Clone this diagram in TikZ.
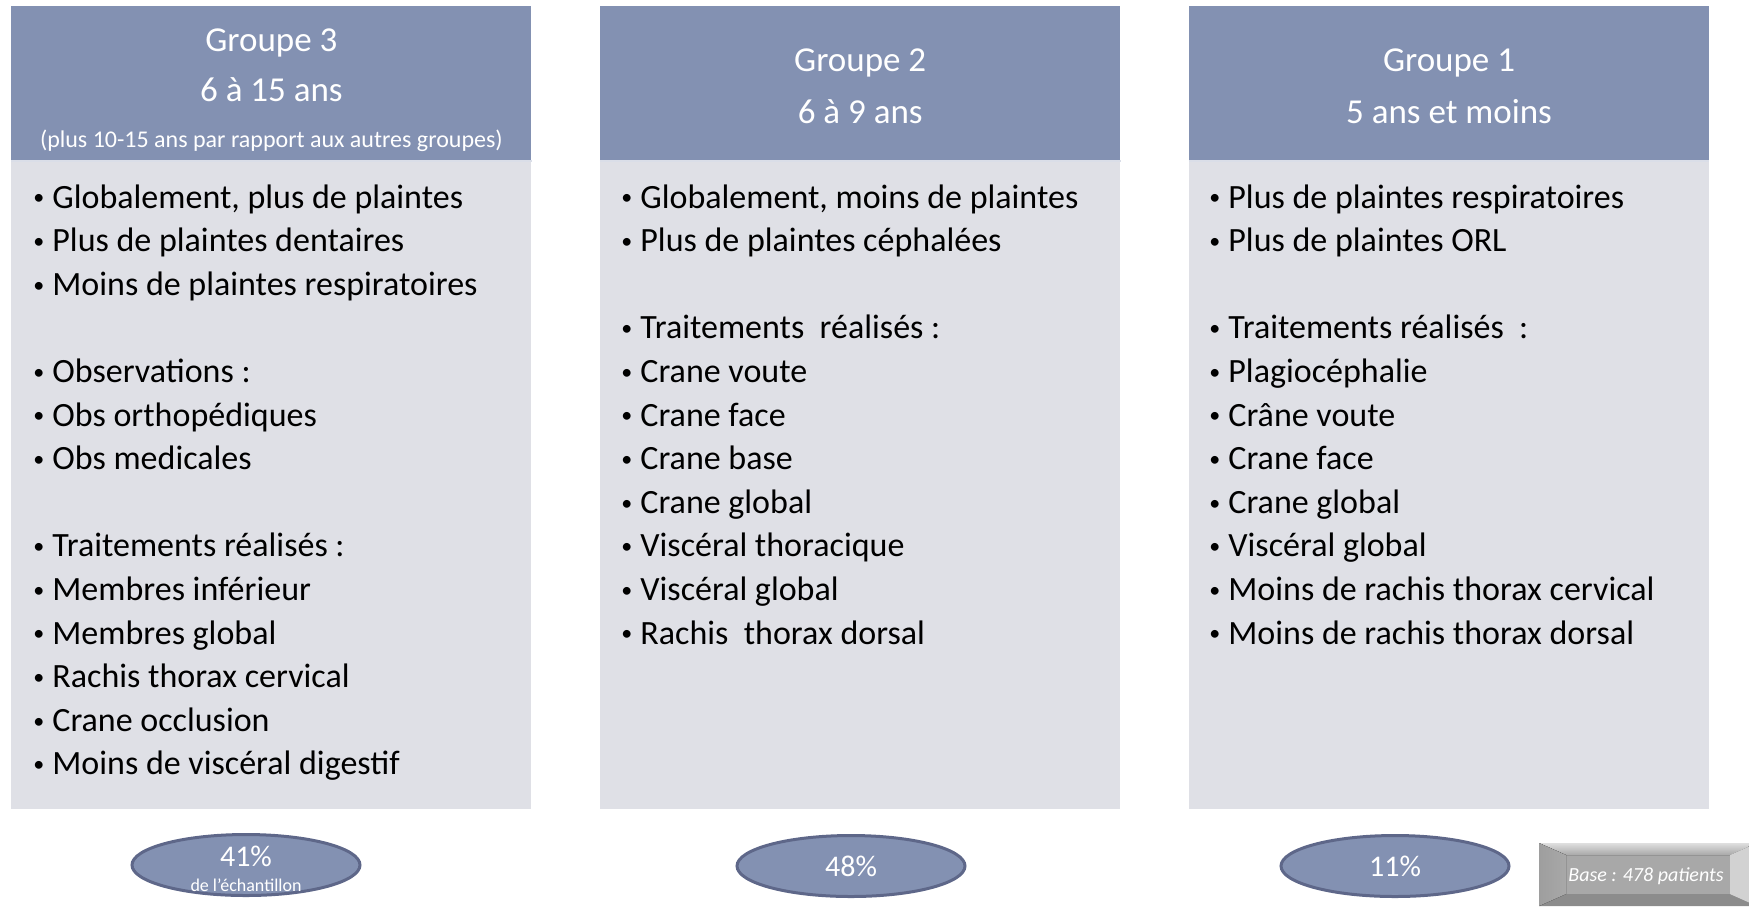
\documentclass[tikz,border=0pt]{standalone}
\usepackage{fontspec}
\setmainfont{Carlito}
\usetikzlibrary{positioning,shapes.geometric}
\definecolor{headblue}{HTML}{8391B2}
\definecolor{bodygray}{HTML}{DFE0E6}
\definecolor{ovalline}{HTML}{5E6789}
\definecolor{basegray}{HTML}{A8A8A8}
\newcommand{\bul}{\makebox[9.5pt][l]{\raisebox{1.6pt}{\fontsize{11}{11}\selectfont\textbullet}}}
\begin{document}
\begin{tikzpicture}[x=0.5pt, y=-0.5pt,
  head/.style={fill=headblue, minimum width=260pt, minimum height=77pt, anchor=north west, text=white, align=center, inner sep=0pt, font=\fontsize{17.5}{26}\selectfont},
  body/.style={fill=bodygray, minimum width=260pt, minimum height=324pt, inner sep=0pt},
  items/.style={anchor=north west, align=left, inner sep=0pt, font=\fontsize{17}{21.8}\selectfont},
  share/.style={ellipse, draw=ovalline, line width=1.5pt, fill=headblue, minimum width=114pt, minimum height=30.5pt, inner sep=0pt, text=white}]
\useasboundingbox (0,0) rectangle (1749,907);

\node (g3) [head] at (11,6) {\rule{0pt}{18.5pt}Groupe 3\\[-1pt]6 à 15 ans\\[-3pt]{\fontsize{12}{20}\selectfont (plus 10-15 ans par rapport aux autres groupes)}};
\node (g2) [head, right=34pt of g3] {\rule{0pt}{13.8pt}Groupe 2\\6 à 9 ans};
\node (g1) [head, right=34pt of g2] {\rule{0pt}{13.8pt}Groupe 1\\5 ans et moins};
\node (b3) [body, below=0pt of g3] {};
\node (b2) [body, below=0pt of g2] {};
\node (b1) [body, below=0pt of g1] {};
\draw[white!70!headblue, line width=1pt] (b3.north west) -- (b3.north east);
\draw[white!70!headblue, line width=1pt] (b2.north west) -- (b2.north east);
\draw[white!70!headblue, line width=1pt] (b1.north west) -- (b1.north east);

\node (t3) [items] at (33,184) {\bul Globalement, plus de plaintes\\
\bul Plus de plaintes dentaires\\
\bul Moins de plaintes respiratoires\\[21.8pt]
\bul Observations :\\
\bul Obs orthopédiques\\
\bul Obs medicales\\[21.8pt]
\bul Traitements réalisés :\\
\bul Membres inférieur\\
\bul Membres global\\
\bul Rachis thorax cervical\\
\bul Crane occlusion\\
\bul Moins de viscéral digestif};
\node (t2) [items] at (621,184) {\bul Globalement, moins de plaintes\\
\bul Plus de plaintes céphalées\\[21.8pt]
\bul Traitements\ \ réalisés :\\
\bul Crane voute\\
\bul Crane face\\
\bul Crane base\\
\bul Crane global\\
\bul Viscéral thoracique\\
\bul Viscéral global\\
\bul Rachis\ \ thorax dorsal};
\node (t1) [items] at (1209,184) {\bul Plus de plaintes respiratoires\\
\bul Plus de plaintes ORL\\[21.8pt]
\bul Traitements réalisés\ \ :\\
\bul Plagiocéphalie\\
\bul Crâne voute\\
\bul Crane face\\
\bul Crane global\\
\bul Viscéral global\\
\bul Moins de rachis thorax cervical\\
\bul Moins de rachis thorax dorsal};

\node (p3) [share] at (246,865) {};
\node (p3a) [text=white, font=\fontsize{15}{15}\selectfont] at (246,856) {41\%};
\node (p3b) [text=white, font=\fontsize{9}{9}\selectfont] at (246,885) {de l’échantillon};
\node (p2) [share, font=\fontsize{15}{15}\selectfont] at (851,866) {48\%};
\node (p1) [share, font=\fontsize{15}{15}\selectfont] at (1395,866) {11\%};

\fill[basegray] (1539,843) rectangle (1757,906);
\fill[top color=gray!25, bottom color=basegray] (1539,843) -- (1757,843) -- (1730,855) -- (1566,855) -- cycle;
\fill[black!45] (1539,906) -- (1757,906) -- (1730,894) -- (1566,894) -- cycle;
\fill[left color=black!38, right color=basegray] (1539,843) -- (1566,855) -- (1566,894) -- (1539,906) -- cycle;
\fill[gray!35] (1757,843) -- (1730,855) -- (1730,894) -- (1757,906) -- cycle;
\node (base) [text=white, font=\fontsize{10}{10}\selectfont\itshape] at (1646,876) {Base : 478 patients};
\end{tikzpicture}
\end{document}
